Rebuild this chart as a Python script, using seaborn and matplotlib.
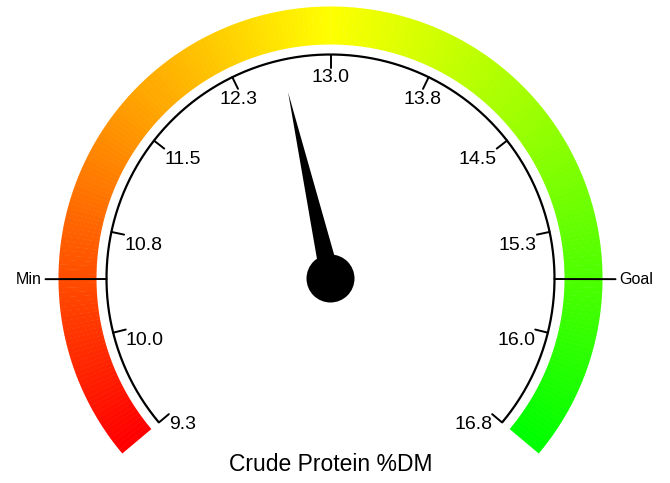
import numpy as np
import matplotlib
matplotlib.use("Agg")
import matplotlib.pyplot as plt
from matplotlib.patches import Wedge, Circle, Polygon
import seaborn as sns

# gauge data
tick_labels = ["9.3", "10.0", "10.8", "11.5", "12.3", "13.0",
               "13.8", "14.5", "15.3", "16.0", "16.8"]
gauge_min = 9.3
gauge_max = 16.8
min_value = 10.45
goal_value = 15.65
needle_value = 12.68
title = "Crude Protein %DM"

START, END = 220.0, -40.0   # degrees, value -> angle


def val2ang(v):
    return START + (v - gauge_min) / (gauge_max - gauge_min) * (END - START)


def main():
    sns.set_theme(style="white")
    plt.rcParams["font.family"] = ["Liberation Sans", "DejaVu Sans"]

    fig = plt.figure(figsize=(6.7, 4.83), dpi=100)
    ax = fig.add_axes([0, 0, 1, 1])
    ax.set_xlim(-330.5, 339.5)
    ax.set_ylim(-204.5, 278.5)
    ax.set_aspect("equal")
    ax.axis("off")

    # coloured band, red -> yellow -> green
    n = 260
    cols = sns.blend_palette(["#FF0000", "#FFFF00", "#00FF00"], n_colors=n)
    edges = np.linspace(START, END, n + 1)
    for i in range(n):
        a1, a2 = sorted([edges[i], edges[i + 1]])
        ax.add_patch(Wedge((0, 0), 272, a1 - 0.05, a2 + 0.05, width=38,
                           facecolor=cols[i], edgecolor="none"))

    # black scale arc
    th = np.radians(np.linspace(START, END, 400))
    ax.plot(224 * np.cos(th), 224 * np.sin(th), color="black", lw=1.6,
            solid_capstyle="butt")

    # ticks and labels
    for i, lab in enumerate(tick_labels):
        a = np.radians(START + i * (END - START) / (len(tick_labels) - 1))
        c, s = np.cos(a), np.sin(a)
        ax.plot([224 * c, 211 * c], [224 * s, 211 * s], color="black", lw=1.4)
        if c < -0.5:
            ha = "left"
        elif c > 0.5:
            ha = "right"
        else:
            ha = "center"
        ax.text(211 * c, 211 * s - 2, lab, ha=ha, va="top", fontsize=14,
                color="black")

    # min / goal markers
    for v, lab in [(min_value, "Min"), (goal_value, "Goal")]:
        a = np.radians(val2ang(v))
        c, s = np.cos(a), np.sin(a)
        ax.plot([224 * c, 285 * c], [224 * s, 285 * s], color="black", lw=1.4)
        ax.text(289 * c, 289 * s, lab, ha="left" if c > 0 else "right",
                va="center", fontsize=11.5, color="black")

    # needle
    a = np.radians(val2ang(needle_value))
    c, s = np.cos(a), np.sin(a)
    L, w = 191, 10
    ax.add_patch(Polygon([[L * c, L * s], [-w * s, w * c], [w * s, -w * c]],
                         closed=True, facecolor="black", edgecolor="none"))
    ax.add_patch(Circle((0, 0), 24, facecolor="black", edgecolor="none"))

    ax.text(0, -186, title, ha="center", va="center", fontsize=16.5,
            color="black")

    fig.savefig("out.png", dpi=100, facecolor="white")


if __name__ == "__main__":
    main()
